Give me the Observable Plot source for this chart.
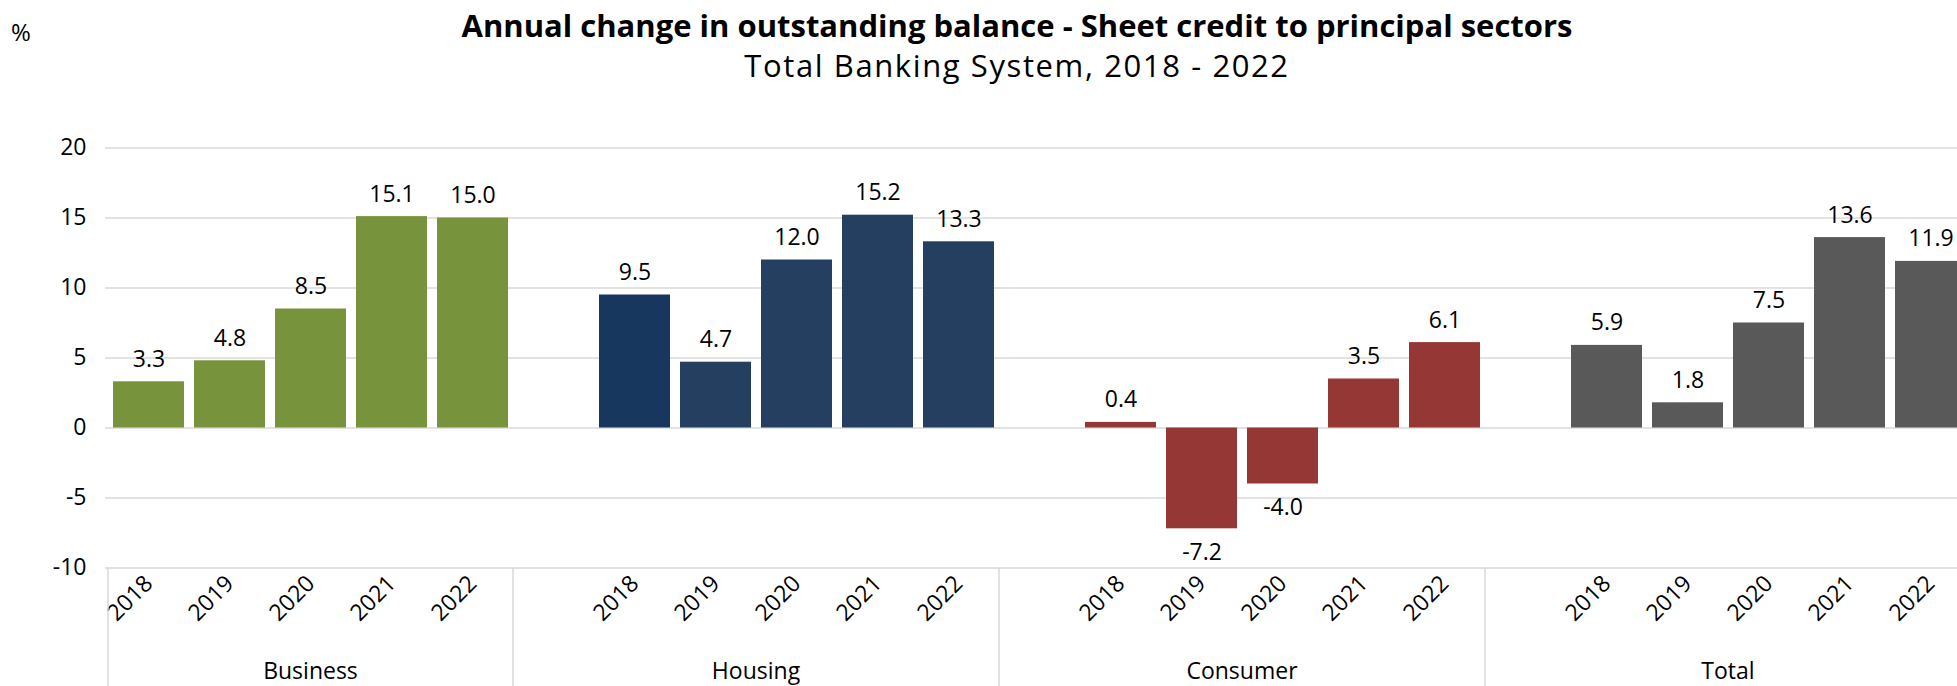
<!DOCTYPE html>
<html>
<head>
<meta charset="utf-8">
<script src="https://cdn.jsdelivr.net/npm/d3@7"></script>
<script src="https://cdn.jsdelivr.net/npm/@observablehq/plot@0.6"></script>
<style>
  html, body { margin: 0; padding: 0; background: #fff; overflow: hidden; }
  #wrap { position: relative; width: 1957px; height: 686px; font-family: "Open Sans", sans-serif; color: #000; overflow: hidden; }
  #hdr { position: relative; height: 100px; }
  #pct { position: absolute; left: 11px; top: 20px; font-size: 24px; line-height: 24px; }
  .ttl { position: absolute; left: 1017px; transform: translateX(-50%); white-space: nowrap; font-size: 31px; line-height: 31px; }
  #title { top: 10px; font-weight: 700; }
  #subtitle { top: 50px; font-weight: 400; letter-spacing: 1.6px; }
  #chart svg { display: block; overflow: hidden; font-family: "Open Sans", sans-serif; }
</style>
</head>
<body>
<div id="wrap">
  <div id="hdr">
    <div id="pct">%</div>
    <div class="ttl" id="title">Annual change in outstanding balance - Sheet credit to principal sectors</div>
    <div class="ttl" id="subtitle">Total Banking System, 2018 - 2022</div>
  </div>
  <div id="chart"></div>
</div>
<script>
// ---- data ----
const sectors = ["Business", "Housing", "Consumer", "Total"];
const years = ["2018", "2019", "2020", "2021", "2022"];
const business = [3.3, 4.8, 8.5, 15.1, 15.0];
const housing = [9.5, 4.7, 12.0, 15.2, 13.3];
const consumer = [0.4, -7.2, -4.0, 3.5, 6.1];
const total = [5.9, 1.8, 7.5, 13.6, 11.9];
const yTicks = [-10, -5, 0, 5, 10, 15, 20];

// ---- styles ----
const sectorColors = { Business: "#77933C", Housing: "#243F60", Consumer: "#953735", Total: "#595959" };
const housing2018Color = "#17375E";
const gridColor = "#d9d9d9";
const fontSize = 23;

// ---- build table ----
const seriesBySector = { Business: business, Housing: housing, Consumer: consumer, Total: total };
const slots = [];
const rows = [];
sectors.forEach((s, i) => {
  if (i > 0) slots.push(s + "|");
  years.forEach((yr, j) => {
    const key = s + "|" + yr;
    slots.push(key);
    rows.push({ sector: s, year: yr, key, value: seriesBySector[s][j] });
  });
});
const fillOf = d => (d.sector === "Housing" && d.year === "2018") ? housing2018Color : sectorColors[d.sector];

const W = 1957, H = 586;
const groupAxis = (index, scales, values, dims) => {
  const x = scales.x;
  const bw = typeof x.bandwidth === "function" ? x.bandwidth() : x.bandwidth;
  const step = typeof x.step === "function" ? x.step() : (x(slots[1]) - x(slots[0]));
  const half = (step - bw) / 2;
  const y0 = dims.height - dims.marginBottom;
  const g = d3.create("svg:g");
  sectors.forEach(s => {
    const keys = slots.filter(k => k.startsWith(s + "|"));
    const a = x(keys[0]) - half;
    const b = x(keys[keys.length - 1]) + bw + half;
    g.append("line").attr("x1", a).attr("x2", a).attr("y1", y0).attr("y2", dims.height)
      .attr("stroke", gridColor).attr("stroke-width", 1.5);
    g.append("text").attr("x", (a + b) / 2).attr("y", dims.height - 7)
      .attr("text-anchor", "middle").attr("font-size", fontSize).attr("fill", "#000").text(s);
  });
  return g.node();
};

const chart = Plot.plot({
  width: W,
  height: H,
  marginLeft: 105,
  marginRight: -16.75,
  marginTop: 47.5,
  marginBottom: 118.5,
  style: { fontFamily: "Open Sans, sans-serif", fontSize: fontSize + "px", background: "#fff", overflow: "hidden" },
  x: { type: "band", domain: slots, paddingInner: 0.123, paddingOuter: 0.0615, axis: null },
  y: { domain: [-10, 20], axis: null },
  marks: [
    Plot.gridY(yTicks, { stroke: gridColor, strokeOpacity: 1, strokeWidth: 1.5 }),
    Plot.barY(rows, { x: "key", y: "value", fill: fillOf }),
    Plot.text(rows.filter(d => d.value >= 0), { x: "key", y: "value", text: d => d.value.toFixed(1), lineAnchor: "bottom", dy: -15, fontSize, fill: "#000" }),
    Plot.text(rows.filter(d => d.value < 0), { x: "key", y: "value", text: d => d.value.toFixed(1), lineAnchor: "top", dy: 15, fontSize, fill: "#000" }),
    Plot.text(rows, { x: "key", text: "year", frameAnchor: "bottom", rotate: -45, textAnchor: "end", lineAnchor: "bottom", dx: 5, dy: 17, fontSize, fill: "#000" }),
    Plot.axisY({ ticks: yTicks, tickSize: 0, tickPadding: 19, fontSize, tickFormat: d => String(d), label: null, fill: "#000" }),
    groupAxis
  ]
});
document.getElementById("chart").appendChild(chart);
</script>
</body>
</html>
